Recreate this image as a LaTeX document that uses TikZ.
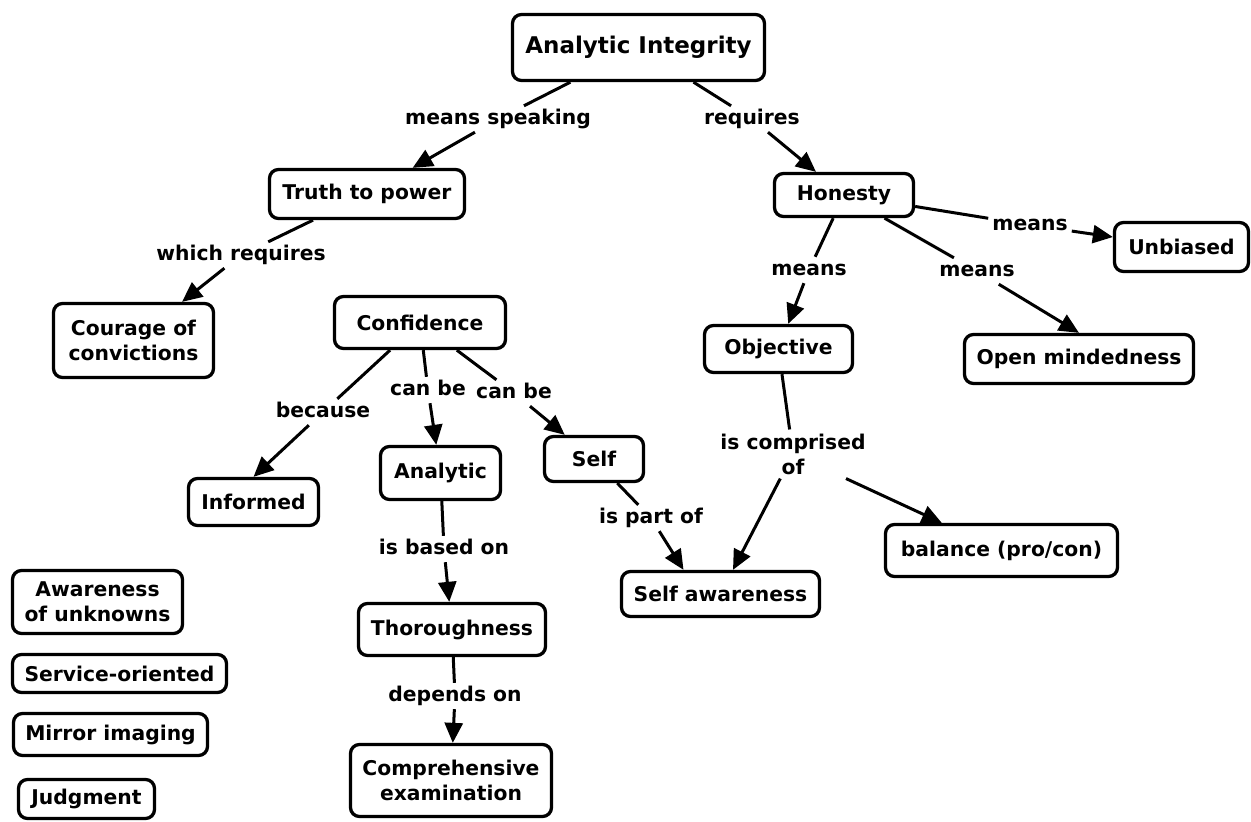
\documentclass[tikz,border=0pt]{standalone}
\usepackage{fontspec}
\setmainfont{DejaVu Sans}
\usetikzlibrary{arrows.meta}
\begin{document}
\begin{tikzpicture}[x=1pt,y=-1pt,
  concept/.style={draw, line width=3.3pt, rounded corners=9pt, align=center,
    font=\fontsize{20.3}{25}\selectfont\bfseries, inner sep=0pt},
  link/.style={font=\fontsize{20.3}{25}\selectfont\bfseries, inner sep=4pt,
    text height=14pt, text depth=4pt, anchor=base},
  conn/.style={line width=3pt},
  arr/.style={line width=3pt, -{Triangle[length=20pt,width=18pt]}},
]
\useasboundingbox (0,0) rectangle (1251,822);

% concepts
\node[concept, minimum width=252pt, minimum height=66pt,
      font=\fontsize{23}{28}\selectfont\bfseries] (ai) at (638.5,47.5) {Analytic Integrity};
\node[concept, minimum width=195pt, minimum height=49pt] (truth) at (367,194) {Truth to power};
\node[concept, minimum width=160pt, minimum height=74pt] (courage) at (133.5,340.5) {Courage of\\convictions};
\node[concept, minimum width=171pt, minimum height=52pt] (conf) at (420,322.5) {Confidence};
\node[concept, minimum width=130pt, minimum height=47pt] (inf) at (253.5,502) {Informed};
\node[concept, minimum width=120pt, minimum height=53pt] (anl) at (440.5,473) {Analytic};
\node[concept, minimum width=99pt, minimum height=45pt] (self) at (594,459) {Self};
\node[concept, minimum width=187pt, minimum height=52pt] (thor) at (452,629.5) {Thoroughness};
\node[concept, minimum width=201pt, minimum height=72pt] (comp) at (451,780.5) {Comprehensive\\examination};
\node[concept, minimum width=170pt, minimum height=63pt] (aware) at (97.5,602) {Awareness\\of unknowns};
\node[concept, minimum width=214pt, minimum height=38pt] (serv) at (119.5,673.5) {Service-oriented};
\node[concept, minimum width=194pt, minimum height=42pt] (mirror) at (110.5,734.5) {Mirror imaging};
\node[concept, minimum width=136pt, minimum height=39pt] (judg) at (86.5,799) {Judgment};
\node[concept, minimum width=139pt, minimum height=43pt] (hon) at (844,195) {Honesty};
\node[concept, minimum width=134pt, minimum height=49pt] (unb) at (1181.5,247) {Unbiased};
\node[concept, minimum width=148pt, minimum height=47pt] (obj) at (778.5,349) {Objective};
\node[concept, minimum width=229pt, minimum height=49pt] (om) at (1079,359) {Open mindedness};
\node[concept, minimum width=198pt, minimum height=45pt] (sa) at (720.5,594) {Self awareness};
\node[concept, minimum width=232pt, minimum height=52pt] (bal) at (1001.5,550.5) {balance (pro/con)};

% linking phrases
\node[link] (l1) at (498,124) {means speaking};
\node[link] (l2) at (752,124) {requires};
\node[link] (l3) at (241,260) {which requires};
\node[link] (l4) at (323,417) {because};
\node[link] (l5) at (428,395) {can be};
\node[link] (l6) at (514,398) {can be};
\node[link] (l7) at (444,554) {is based on};
\node[link] (l8) at (455,701) {depends on};
\node[link] (l9) at (651,523) {is part of};
\node[font=\fontsize{20.3}{25}\selectfont\bfseries, align=center, inner sep=4pt]
      (l10) at (793,454) {is comprised\\of};
\node[link] (l11) at (809,275) {means};
\node[link] (l12) at (977,276) {means};
\node[link] (l13) at (1030,230) {means};

% connections
\draw[conn] (ai) -- (l1);  \draw[arr] (l1) -- (truth);
\draw[conn] (ai) -- (l2);  \draw[arr] (l2) -- (hon);
\draw[conn] (truth) -- (l3); \draw[arr] (l3) -- (courage);
\draw[conn] (conf) -- (l4); \draw[arr] (l4) -- (inf.north);
\draw[conn] (conf) -- (l5); \draw[arr] (l5) -- (anl);
\draw[conn] (conf) -- (l6); \draw[arr] (l6) -- (self);
\draw[conn] (anl) -- (l7); \draw[arr] (l7) -- (thor);
\draw[conn] (thor) -- (l8); \draw[arr] (l8) -- (comp);
\draw[conn] (self) -- (l9); \draw[arr] (l9) -- ([xshift=-37pt]sa.north);
\draw[conn] (obj) -- (l10); \draw[arr] (l10) -- (sa); \draw[arr] (l10) -- (bal);
\draw[conn] (hon) -- (l11); \draw[arr] (l11) -- (obj);
\draw[conn] (hon) -- (l12); \draw[arr] (l12) -- (om.north);
\draw[conn] (hon) -- (l13); \draw[arr] (l13) -- (unb);
\end{tikzpicture}
\end{document}
